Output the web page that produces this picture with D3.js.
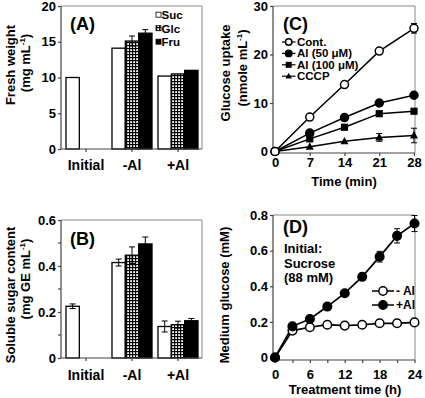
<!DOCTYPE html>
<html><head><meta charset="utf-8">
<script src="https://cdn.jsdelivr.net/npm/d3@7"></script>
<style>
html,body{margin:0;padding:0;background:#fff;}
svg{display:block;}
text{font-family:"Liberation Sans",Arial,Helvetica,sans-serif;font-weight:bold;fill:#000;}
</style></head><body>
<svg id="chart" width="425" height="398"></svg>
<script>
// ---------- data ----------
const groups = ["Initial", "-Al", "+Al"];
const sugars = ["Suc", "Glc", "Fru"];

// (A) fresh weight, mg mL-1
const fwSuc = [10.0, 14.1, 10.2];
const fwGlc = [null, 15.1, 10.5];
const fwFru = [null, 16.2, 11.0];
const fwSucErr = [0, 0, 0];
const fwGlcErr = [null, 0.7, 0];
const fwFruErr = [null, 0.5, 0];
const fwTicks = [0, 5, 10, 15, 20];

// (B) soluble sugar content, mg GE mL-1
const ssSuc = [0.225, 0.415, 0.137];
const ssGlc = [null, 0.447, 0.145];
const ssFru = [null, 0.496, 0.162];
const ssSucErr = [0.01, 0.015, 0.024];
const ssGlcErr = [null, 0.036, 0.015];
const ssFruErr = [null, 0.03, 0.01];
const ssTicks = [0, 0.2, 0.4, 0.6];
const ssTickLabels = ["0", "0.2", "0.4", "0.6"];
const ssMinorTicks = [0.1, 0.3, 0.5];

// (C) glucose uptake, nmole mL-1
const timeC = [0, 7, 14, 21, 28];
const uptakeCont = [0, 7.1, 13.8, 20.7, 25.4];
const uptakeAl50 = [0, 3.8, 7.0, 10.0, 11.6];
const uptakeAl100 = [0, 2.6, 5.0, 7.8, 8.3];
const uptakeCCCP = [0, 1.0, 2.1, 2.9, 3.3];
const errCont = [0, 0, 0, 0, 1.0];
const errAl50 = [0, 0, 0, 0, 0.5];
const errAl100 = [0, 0, 0, 0, 0.4];
const errCCCP = [0, 0, 0, 0.8, 1.5];
const seriesC = ["Cont.", "Al (50 \u03bcM)", "Al (100 \u03bcM)", "CCCP"];
const ticksCx = [0, 7, 14, 21, 28];
const ticksCy = [0, 10, 20, 30];

// (D) medium glucose, mM
const timeD = [0, 3, 6, 9, 12, 15, 18, 21, 24];
const glcMinusAl = [0, 0.151, 0.17, 0.184, 0.179, 0.184, 0.192, 0.192, 0.197];
const glcPlusAl = [0, 0.175, 0.216, 0.286, 0.361, 0.453, 0.566, 0.683, 0.752];
const errMinusAl = [0, 0, 0, 0, 0, 0, 0, 0, 0.01];
const errPlusAl = [0, 0, 0, 0, 0, 0, 0.03, 0.04, 0.045];
const seriesD = ["- Al", "+Al"];
const ticksDx = [0, 3, 6, 9, 12, 15, 18, 21, 24];
const ticksDxLabels = [0, 6, 12, 18, 24];
const ticksDy = [0, 0.2, 0.4, 0.6, 0.8];

// ---------- drawing ----------
const svg = d3.select("#chart");
const defs = svg.append("defs");
const pat = defs.append("pattern").attr("id", "grid").attr("patternUnits", "userSpaceOnUse")
  .attr("width", 3).attr("height", 3);
pat.append("rect").attr("width", 3).attr("height", 3).attr("fill", "#fff");
pat.append("rect").attr("width", 3).attr("height", 1.2).attr("fill", "#000");
pat.append("rect").attr("width", 1.2).attr("height", 3).attr("fill", "#000");

const fills = {Suc: "#fff", Glc: "url(#grid)", Fru: "#000"};

function frame(g, l, r, t, b) {
  g.append("line").attr("x1", l).attr("x2", r).attr("y1", t).attr("y2", t).attr("stroke", "#888").attr("stroke-width", 1);
  g.append("line").attr("x1", r).attr("x2", r).attr("y1", t).attr("y2", b).attr("stroke", "#888").attr("stroke-width", 1);
  g.append("line").attr("x1", l).attr("x2", l).attr("y1", t).attr("y2", b).attr("stroke", "#444").attr("stroke-width", 1.2);
  g.append("line").attr("x1", l).attr("x2", r).attr("y1", b).attr("y2", b).attr("stroke", "#444").attr("stroke-width", 1.2);
}

function styleAxis(ax, size) {
  ax.select(".domain").remove();
  ax.selectAll(".tick line").attr("stroke", "#444").attr("stroke-width", 1.2);
  ax.selectAll("text").attr("font-size", size).attr("font-family", null).attr("font-weight", "bold").attr("fill", "#000");
}

function rotTitle(g, x, y, parts) {
  const t = g.append("text").attr("transform", `translate(${x},${y}) rotate(-90)`)
    .attr("text-anchor", "middle").attr("font-size", 13);
  parts.forEach(p => {
    const ts = t.append("tspan").text(p.t);
    if (p.sup) ts.attr("font-size", 8).attr("dy", -5);
    if (p.after) ts.attr("dy", 5);
  });
}

function barPanel(cfg) {
  const g = svg.append("g");
  const x = d3.scaleBand().domain(groups).range([cfg.l + 2, cfg.r - 1]).paddingInner(0.13).paddingOuter(0.065);
  const xs = d3.scaleBand().domain(sugars).range([0, x.bandwidth()]);
  const y = d3.scaleLinear().domain(cfg.domain).range([cfg.b, cfg.t]);
  const data = [];
  groups.forEach((grp, i) => {
    sugars.forEach((s, j) => {
      const v = cfg.vals[j][i];
      if (v != null) data.push({grp, s, v, e: cfg.errs[j][i]});
    });
  });
  const eb = data.filter(d => d.e > 0);
  g.selectAll(".bar").data(data).join("rect")
    .attr("x", d => x(d.grp) + xs(d.s)).attr("width", xs.bandwidth())
    .attr("y", d => y(d.v)).attr("height", d => y(0) - y(d.v))
    .attr("fill", d => fills[d.s]).attr("stroke", "#000").attr("stroke-width", 1.3);
  eb.forEach(d => {
    const cx = x(d.grp) + xs(d.s) + xs.bandwidth() / 2;
    g.append("line").attr("x1", cx).attr("x2", cx).attr("y1", y(d.v - d.e)).attr("y2", y(d.v + d.e)).attr("stroke", "#000").attr("stroke-width", 1);
    [d.v - d.e, d.v + d.e].forEach(val => {
      g.append("line").attr("x1", cx - 3).attr("x2", cx + 3).attr("y1", y(val)).attr("y2", y(val)).attr("stroke", "#000").attr("stroke-width", 1);
    });
  });
  frame(g, cfg.l, cfg.r, cfg.t, cfg.b);
  const ay = g.append("g").attr("transform", `translate(${cfg.l},0)`)
    .call(d3.axisLeft(y).tickValues(cfg.ticks).tickFormat((d, i) => cfg.tickLabels ? cfg.tickLabels[i] : d).tickSize(3).tickPadding(2));
  styleAxis(ay, 13);
  if (cfg.minor) {
    g.selectAll(".minor").data(cfg.minor).join("line")
      .attr("x1", cfg.l - 3).attr("x2", cfg.l).attr("y1", d => y(d)).attr("y2", d => y(d)).attr("stroke", "#444").attr("stroke-width", 1.2);
  }
  const ax = g.append("g").attr("transform", `translate(0,${cfg.b})`)
    .call(d3.axisBottom(x).tickSize(3).tickPadding(cfg.xpad));
  styleAxis(ax, 14);
  return {g, x, y};
}

// Panel A
const A = barPanel({l: 61, r: 202, t: 6, b: 149, domain: [0, 20], ticks: fwTicks,
  vals: [fwSuc, fwGlc, fwFru], errs: [fwSucErr, fwGlcErr, fwFruErr], xpad: 8});
A.g.append("text").attr("x", 70).attr("y", 30).attr("font-size", 18).text("(A)");
sugars.forEach((s, i) => {
  const yy = 15 + i * 13.5;
  A.g.append("rect").attr("x", 156).attr("y", yy - 2.8).attr("width", 5).attr("height", 5)
    .attr("fill", fills[s]).attr("stroke", "#000").attr("stroke-width", 0.8);
  A.g.append("text").attr("x", 161.5).attr("y", yy + 4.2).attr("font-size", 11.5).text(s);
});
rotTitle(A.g, 15, 65, [{t: "Fresh weight"}]);
rotTitle(A.g, 29.5, 63, [{t: "(mg mL"}, {t: "-1", sup: true}, {t: ")", after: true}]);

// Panel B
const B = barPanel({l: 61, r: 202, t: 220, b: 358, domain: [0, 0.6], ticks: ssTicks, tickLabels: ssTickLabels,
  minor: ssMinorTicks, vals: [ssSuc, ssGlc, ssFru], errs: [ssSucErr, ssGlcErr, ssFruErr], xpad: 9});
B.g.append("text").attr("x", 70).attr("y", 244.5).attr("font-size", 18).text("(B)");
rotTitle(B.g, 15, 295, [{t: "Soluble sugar content"}]);
rotTitle(B.g, 29.5, 279, [{t: "(mg GE mL"}, {t: "-1", sup: true}, {t: ")", after: true}]);

// markers
function marker(g, type, cx, cy, s) {
  if (type === "open" || type === "filled") {
    g.append("circle").attr("cx", cx).attr("cy", cy).attr("r", s)
      .attr("fill", type === "open" ? "#fff" : "#000").attr("stroke", "#000").attr("stroke-width", 1.5);
  } else if (type === "square") {
    g.append("rect").attr("x", cx - s).attr("y", cy - s).attr("width", 2 * s).attr("height", 2 * s).attr("fill", "#000");
  } else if (type === "triangle") {
    g.append("path").attr("d", `M${cx},${cy - s * 1.1}L${cx + s},${cy + s * 0.75}L${cx - s},${cy + s * 0.75}Z`).attr("fill", "#000");
  }
}
function errBar(g, cx, y1, y2) {
  g.append("line").attr("x1", cx).attr("x2", cx).attr("y1", y1).attr("y2", y2).attr("stroke", "#000").attr("stroke-width", 1);
  [y1, y2].forEach(v => g.append("line").attr("x1", cx - 3).attr("x2", cx + 3).attr("y1", v).attr("y2", v).attr("stroke", "#000").attr("stroke-width", 1));
}

// Panel C
{
  const g = svg.append("g");
  const l = 273, r = 415, t = 6, b = 153;
  const x = d3.scaleLinear().domain([0, 28]).range([275, 414]);
  const y = d3.scaleLinear().domain([0, 30]).range([151.5, 6]);
  frame(g, l, r, t, b);
  const ay = g.append("g").attr("transform", `translate(${l},0)`)
    .call(d3.axisLeft(y).tickValues(ticksCy).tickSize(3).tickPadding(2));
  styleAxis(ay, 13);
  const ax = g.append("g").attr("transform", `translate(0,${b})`)
    .call(d3.axisBottom(x).tickValues(ticksCx).tickSize(3).tickPadding(2));
  styleAxis(ax, 13);
  const series = [
    {vals: uptakeCont, err: errCont, m: "open", s: 4},
    {vals: uptakeAl50, err: errAl50, m: "filled", s: 4},
    {vals: uptakeAl100, err: errAl100, m: "square", s: 3.6},
    {vals: uptakeCCCP, err: errCCCP, m: "triangle", s: 4}
  ];
  const line = d3.line().x((d, i) => x(timeC[i])).y(d => y(d));
  series.slice().reverse().forEach(sr => {
    g.append("path").datum(sr.vals).attr("d", line).attr("fill", "none").attr("stroke", "#000").attr("stroke-width", 1.5);
    sr.vals.forEach((v, i) => { if (sr.err[i] > 0) errBar(g, x(timeC[i]), y(v - sr.err[i]), y(v + sr.err[i])); });
  });
  series.slice().reverse().forEach(sr => {
    sr.vals.forEach((v, i) => marker(g, sr.m, x(timeC[i]), y(v), sr.s));
  });
  // legend
  series.forEach((sr, i) => {
    const yy = 42 + i * 11.4;
    g.append("line").attr("x1", 282).attr("x2", 295.5).attr("y1", yy).attr("y2", yy).attr("stroke", "#000").attr("stroke-width", 1.2);
    marker(g, sr.m, 288.7, yy, sr.m === "square" ? 3 : 3.2);
    g.append("text").attr("x", 297).attr("y", yy + 4).attr("font-size", 11.5).text(seriesC[i]);
  });
  g.append("text").attr("x", 283).attr("y", 30).attr("font-size", 18).text("(C)");
  rotTitle(g, 230, 73, [{t: "Glucose uptake"}]);
  rotTitle(g, 246.5, 68, [{t: "(nmole mL"}, {t: "-1", sup: true}, {t: ")", after: true}]);
  g.append("text").attr("x", 344).attr("y", 186).attr("text-anchor", "middle").attr("font-size", 13).text("Time (min)");
}

// Panel D
{
  const g = svg.append("g");
  const l = 273, r = 415, t = 215, b = 360;
  const x = d3.scaleLinear().domain([0, 24]).range([275, 414.5]);
  const y = d3.scaleLinear().domain([0, 0.8]).range([357.5, 215]);
  frame(g, l, r, t, b);
  const ay = g.append("g").attr("transform", `translate(${l},0)`)
    .call(d3.axisLeft(y).tickValues(ticksDy).tickFormat(d => d === 0 ? "0" : d3.format(".1f")(d)).tickSize(3).tickPadding(2));
  styleAxis(ay, 13);
  const ax = g.append("g").attr("transform", `translate(0,${b})`)
    .call(d3.axisBottom(x).tickValues(ticksDx).tickFormat(d => ticksDxLabels.includes(d) ? d : "").tickSize(3).tickPadding(7));
  styleAxis(ax, 13);
  const line = d3.line().x((d, i) => x(timeD[i])).y(d => y(d));
  const series = [
    {vals: glcMinusAl, err: errMinusAl, m: "open"},
    {vals: glcPlusAl, err: errPlusAl, m: "filled"}
  ];
  series.forEach(sr => {
    g.append("path").datum(sr.vals).attr("d", line).attr("fill", "none").attr("stroke", "#000").attr("stroke-width", 1.7);
    sr.vals.forEach((v, i) => { if (sr.err[i] > 0) errBar(g, x(timeD[i]), y(v - sr.err[i]), y(v + sr.err[i])); });
  });
  series.forEach(sr => sr.vals.forEach((v, i) => marker(g, sr.m, x(timeD[i]), y(v), 4.3)));
  series.forEach((sr, i) => {
    const yy = 291 + i * 14;
    g.append("line").attr("x1", 372).attr("x2", 394).attr("y1", yy).attr("y2", yy).attr("stroke", "#000").attr("stroke-width", 1.5);
    marker(g, sr.m, 383, yy, 4.2);
    g.append("text").attr("x", 396).attr("y", yy + 4.2).attr("font-size", 12).text(seriesD[i]);
  });
  g.append("text").attr("x", 283).attr("y", 233).attr("font-size", 18).text("(D)");
  ["Initial:", "Sucrose", "(88 mM)"].forEach((s, i) => {
    g.append("text").attr("x", 284).attr("y", 253 + i * 14.5).attr("font-size", 13).text(s);
  });
  rotTitle(g, 228.5, 295, [{t: "Medium glucose (mM)"}]);
  g.append("text").attr("x", 345).attr("y", 394).attr("text-anchor", "middle").attr("font-size", 13).text("Treatment time (h)");
}
</script>
</body></html>
